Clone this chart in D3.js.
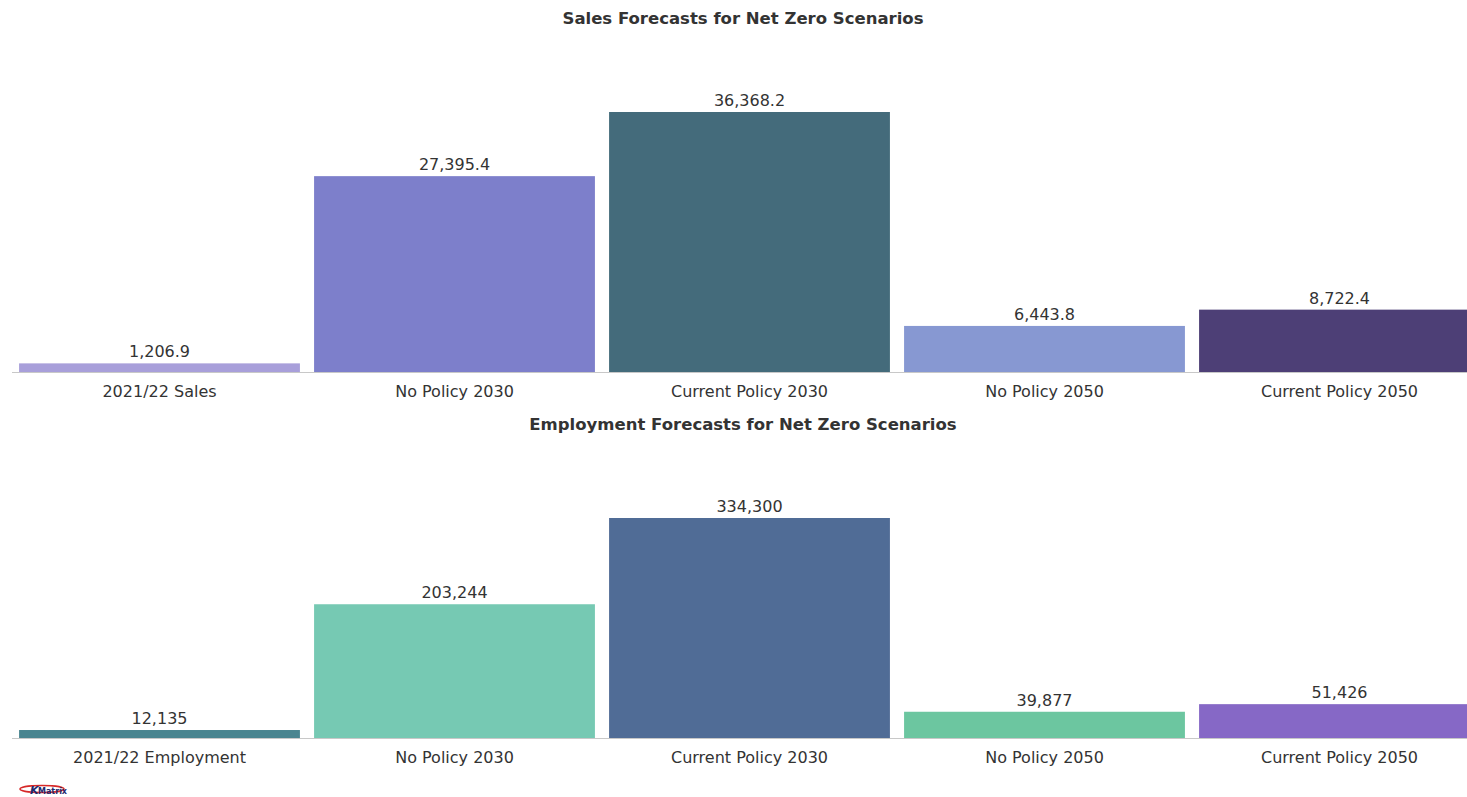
<!DOCTYPE html>
<html><head><meta charset="utf-8">
<script src="https://cdn.jsdelivr.net/npm/d3@7"></script>
<style>
html,body{margin:0;padding:0;background:#fff;overflow:hidden;}
svg{display:block;}
text{font-family:"DejaVu Sans",Verdana,sans-serif;}
</style></head>
<body>
<svg id="c" width="1467" height="797"></svg>
<script>
const salesCategories = ["2021/22 Sales","No Policy 2030","Current Policy 2030","No Policy 2050","Current Policy 2050"];
const salesValues = [1206.9, 27395.4, 36368.2, 6443.8, 8722.4];
const salesLabels = ["1,206.9","27,395.4","36,368.2","6,443.8","8,722.4"];
const salesColors = ["#a89fda","#7d7fcb","#446b7b","#8798d2","#4d3f76"];

const empCategories = ["2021/22 Employment","No Policy 2030","Current Policy 2030","No Policy 2050","Current Policy 2050"];
const empValues = [12135, 203244, 334300, 39877, 51426];
const empLabels = ["12,135","203,244","334,300","39,877","51,426"];
const empColors = ["#4a8590","#76c9b3","#506c96","#6cc6a0","#8668c6"];

const svg = d3.select("#c");

function panel(title, titleY, cats, vals, labels, colors, baseY, topY) {
  const x = d3.scaleBand().domain(cats).range([12, 1487]).paddingInner(0.048).paddingOuter(0.024);
  const y = d3.scaleLinear().domain([0, d3.max(vals)]).range([baseY, topY]);
  const g = svg.append("g");
  g.append("text").attr("x", 743).attr("y", titleY).attr("text-anchor","middle")
    .attr("font-size", 16.5).attr("font-weight","bold").attr("fill","#333").text(title);
  g.append("line").attr("x1",12).attr("x2",1467).attr("y1",baseY+0.5).attr("y2",baseY+0.5)
    .attr("stroke","#c8c8c8").attr("stroke-width",1);
  g.selectAll("rect.bar").data(cats).enter().append("rect").attr("class","bar")
    .attr("x", d => x(d)).attr("width", x.bandwidth())
    .attr("y", (d,i) => y(vals[i])).attr("height", (d,i) => baseY - y(vals[i]))
    .attr("fill", (d,i) => colors[i]);
  g.selectAll("text.val").data(cats).enter().append("text").attr("class","val")
    .attr("x", d => x(d) + x.bandwidth()/2).attr("y", (d,i) => y(vals[i]) - 6)
    .attr("text-anchor","middle").attr("font-size",16).attr("fill","#333")
    .text((d,i) => labels[i]);
  const ax = d3.axisBottom(x).tickSize(0).tickPadding(14);
  const axg = g.append("g").attr("transform", `translate(0,${baseY})`).call(ax);
  axg.select(".domain").remove();
  axg.selectAll("text").attr("font-size",16).attr("fill","#333")
    .attr("font-family","'DejaVu Sans',Verdana,sans-serif");
}

panel("Sales Forecasts for Net Zero Scenarios", 24, salesCategories, salesValues, salesLabels, salesColors, 372, 112);
panel("Employment Forecasts for Net Zero Scenarios", 430, empCategories, empValues, empLabels, empColors, 738, 518);

// logo
const logo = svg.append("g");
logo.append("ellipse").attr("cx",42).attr("cy",789).attr("rx",22).attr("ry",3.5)
  .attr("fill","none").attr("stroke","#d62828").attr("stroke-width",1.5);
logo.append("text").attr("x",30).attr("y",794).attr("font-size",11).attr("font-weight","bold")
  .attr("font-style","italic").attr("fill","#1f2a6e").text("K");
logo.append("text").attr("x",38).attr("y",794).attr("font-size",8).attr("font-weight","bold")
  .attr("fill","#1f2a6e").text("Matrix");
</script>
</body></html>
